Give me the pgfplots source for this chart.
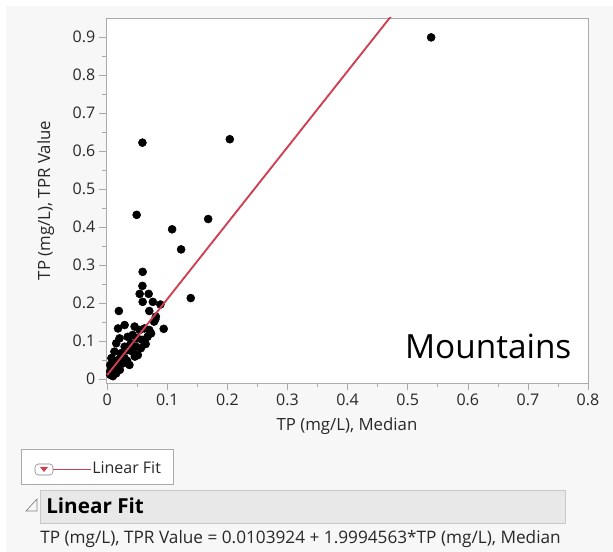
\documentclass[border=0pt]{standalone}
\usepackage{pgfplots}
\pgfplotsset{compat=1.18}
\usepackage{fontspec}
\setmainfont{Open Sans}
\definecolor{fitred}{RGB}{208,62,82}
\definecolor{panelbg}{RGB}{247,247,247}
\definecolor{framegray}{RGB}{170,170,170}
\definecolor{barfill}{RGB}{232,232,232}
\definecolor{barline}{RGB}{200,200,200}
\definecolor{txt}{RGB}{40,40,40}

% TP median vs TPR value, mountain sites
\pgfplotstableread{
x y
0.0586 0.622
0.204 0.631
0.539 0.899
0.049 0.432
0.168 0.421
0.108 0.394
0.123 0.341
0.059 0.282
0.0586 0.245
0.054 0.224
0.069 0.224
0.059 0.203
0.076 0.203
0.0885 0.196
0.139 0.213
0.0194 0.179
0.070 0.179
0.080 0.157
0.081 0.164
0.078 0.151
0.094 0.132
0.029 0.142
0.018 0.133
0.0456 0.138
0.054 0.129
0.062 0.133
0.070 0.129
0.073 0.120
0.0205 0.107
0.034 0.111
0.0424 0.116
0.050 0.107
0.058 0.103
0.067 0.111
0.015 0.094
0.029 0.085
0.040 0.094
0.048 0.085
0.056 0.081
0.012 0.072
0.023 0.068
0.034 0.076
0.042 0.072
0.007 0.055
0.018 0.050
0.029 0.055
0.046 0.059
0.051 0.063
0.005 0.037
0.015 0.033
0.026 0.041
0.037 0.037
0.005 0.020
0.015 0.015
0.0095 0.028
0.021 0.024
0.0095 0.0075
0.005 0.011
0.012 0.045
0.024 0.062
0.033 0.048
0.038 0.090
0.064 0.092
}\mountains

\begin{document}
\begin{tikzpicture}
% report panel (units of 0.75pt, origin at top left)
\begin{scope}[x=0.75pt,y=-0.75pt,shift={(0,-552)}]
\fill[white] (0,0) rectangle (613,552);
\fill[panelbg] (6,6) rectangle (613,552);
% legend box
\draw[framegray,fill=white] (21,449) rectangle (173,484);
\draw[gray,fill=white,rounded corners=2.5pt] (35,464) rectangle (53,475);
\fill[fitred] (40,467) -- (48,467) -- (44,472) -- cycle;
\draw[fitred,line width=1.2pt] (53,469.5) -- (91,469.5);
\node[anchor=west,font=\fontsize{12}{14}\selectfont,txt,inner sep=0pt] at (92,468) {Linear Fit};
% report header
\draw[gray,line width=0.5pt] (26,511) -- (37,499) -- (37,511) -- cycle;
\draw[barline,fill=barfill] (40,490) rectangle (565,523);
\node[anchor=west,font=\fontsize{15.5}{18}\selectfont\bfseries,black,inner sep=0pt] at (46,506) {Linear Fit};
\node[anchor=west,font=\fontsize{12.9}{15}\selectfont,txt,inner sep=0pt] at (40,539)
  {TP (mg/L), TPR Value = 0.0103924 + 1.9994563*TP (mg/L), Median};
\end{scope}

\begin{axis}[
  at={(79.5pt,126.75pt)}, anchor=south west,
  scale only axis, width=361.5pt, height=273.75pt,
  xmin=-0.002, xmax=0.8, ymin=-0.0105, ymax=0.95,
  axis background/.style={fill=white},
  axis line style={framegray},
  xtick={0,0.1,...,0.8}, ytick={0,0.1,...,0.9},
  minor tick num=1,
  tick align=outside, tick pos=left,
  major tick length=5.5pt, minor tick length=3pt,
  every tick/.style={framegray},
  /pgf/number format/assume math mode=true,
  ticklabel style={font=\fontsize{12}{14}\selectfont, text=txt},
  xticklabel style={yshift=1pt},
  yticklabel style={xshift=1pt},
  label style={font=\fontsize{12.6}{15}\selectfont, text=txt},
  xlabel={TP (mg/L), Median},
  ylabel={TP (mg/L), TPR Value},
  xlabel style={yshift=-2pt},
  ylabel style={yshift=7pt},
  clip mode=individual,
]
\addplot[only marks, mark=*, mark size=3pt, mark options={black,fill=black}] table[x=x,y=y] {\mountains};
% linear fit: y = 0.0103924 + 1.9994563 x
\addplot[fitred, line width=1.4pt] coordinates {(0,0.0103924) (0.5,1.0101206)};
\node[anchor=center,font=\fontsize{25}{30}\selectfont,black] at (axis cs:0.634,0.085) {Mountains};
\end{axis}
\end{tikzpicture}
\end{document}
